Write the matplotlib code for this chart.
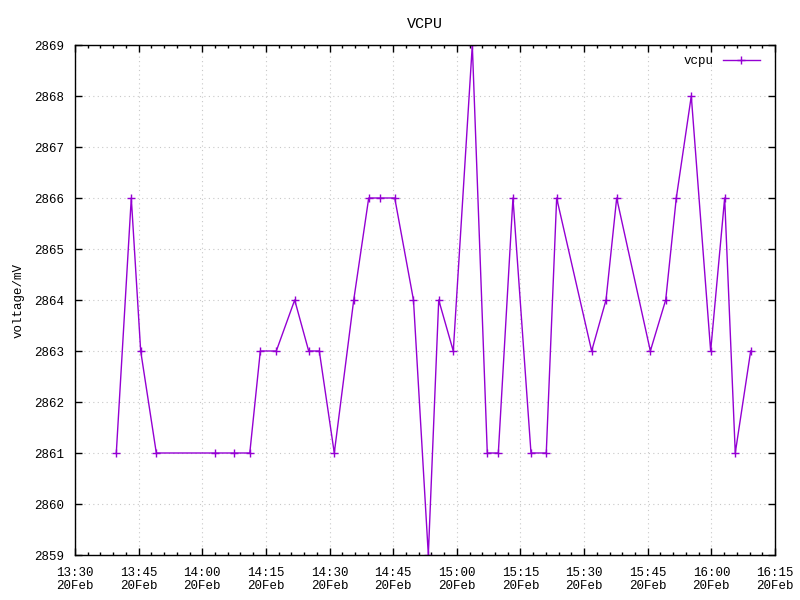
import pandas as pd
import matplotlib
matplotlib.use('Agg')
import matplotlib.pyplot as plt
import matplotlib.dates as mdates

# readings of the vcpu rail, 20 Feb
times = ['13:39:44', '13:43:16', '13:45:29', '13:49:10', '14:03:07', '14:07:33',
         '14:11:12', '14:13:41', '14:17:27', '14:21:47', '14:25:05', '14:27:35',
         '14:31:07', '14:35:42', '14:39:14', '14:41:49', '14:45:22', '14:49:47',
         '14:53:17', '14:55:44', '14:59:10', '15:03:39', '15:07:11', '15:09:47',
         '15:13:14', '15:17:29', '15:21:05', '15:23:32', '15:31:47', '15:35:10',
         '15:37:41', '15:45:37', '15:49:14', '15:51:44', '15:55:16', '15:59:50',
         '16:03:08', '16:05:38', '16:09:16']
vcpu = [2861, 2866, 2863, 2861, 2861, 2861,
        2861, 2863, 2863, 2864, 2863, 2863,
        2861, 2864, 2866, 2866, 2866, 2864,
        2859, 2864, 2863, 2869, 2861, 2861,
        2866, 2861, 2861, 2866, 2863, 2864,
        2866, 2863, 2864, 2866, 2868, 2863,
        2866, 2861, 2863]
day = '2024-02-20 '
x_start = '13:30'
x_end = '16:15'

t = pd.to_datetime([day + s for s in times])

plt.rcParams.update({
	'font.family': 'Liberation Mono',
	'font.size': 9,
})

fig = plt.figure(figsize=(8, 6), dpi=100)
ax = fig.add_axes([75/800, 45/600, 700/800, 510/600])

ax.plot(t, vcpu, color='#9400d3', linewidth=1.0, marker='+', markersize=6,
	markeredgewidth=1.0, label='vcpu')

ax.set_xlim(pd.Timestamp(day + x_start), pd.Timestamp(day + x_end))
ax.set_ylim(2859, 2869)

ax.xaxis.set_major_locator(mdates.MinuteLocator(byminute=range(0, 60, 15)))
ax.xaxis.set_minor_locator(mdates.MinuteLocator(byminute=range(0, 60, 3)))
ax.xaxis.set_major_formatter(mdates.DateFormatter('%H:%M\n%d%b'))
ax.set_yticks(range(2859, 2870))

ax.tick_params(which='both', direction='in', top=True, right=True)
ax.tick_params(which='major', length=5, width=1)
ax.tick_params(axis='x', pad=9)
ax.tick_params(axis='y', pad=8)
ax.tick_params(which='minor', length=2.5, width=1)
for lab in ax.get_xticklabels():
	lab.set_linespacing(1.1)

ax.grid(True, which='major', color='#c8c8c8', linestyle=(0, (1, 3)), linewidth=0.8)
for s in ax.spines.values():
	s.set_linewidth(1.0)

ax.set_title('VCPU', pad=12)
ax.set_ylabel('voltage/mV', va='center')
ax.yaxis.set_label_coords(-56/700, 0.5)

ax.legend(loc='upper right', bbox_to_anchor=(1 - 15/700, 1 - 10/510), frameon=False,
	markerfirst=False, handlelength=3.0, handletextpad=0.7, borderpad=0, borderaxespad=0)

fig.savefig('out.png', dpi=100)
plt.close()
